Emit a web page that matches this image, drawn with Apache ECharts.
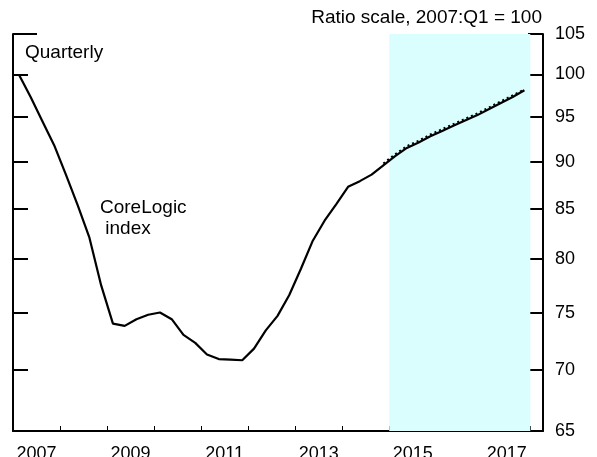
<!DOCTYPE html>
<html lang="en">
<head>
    <meta charset="UTF-8">
    <title>CoreLogic index</title>
    <script src="https://cdn.jsdelivr.net/npm/echarts@6/dist/echarts.min.js"></script>
    <style>
        html, body { margin: 0; padding: 0; background: #fff; }
        #chart { width: 597px; height: 457px; }
    </style>
</head>
<body>
<div id="chart"></div>
<script type="text/javascript">
    // quarterly, 2007:Q1 = 100
    var startYear = 2007;
    var coreLogic = [100.0, 97.3, 94.5, 91.8, 88.6, 85.4, 82.1, 77.5,
        74.0, 73.8, 74.4, 74.8, 75.0, 74.4, 73.0, 72.3,
        71.3, 70.9, 70.85, 70.8, 71.8, 73.4, 74.7, 76.6,
        79.1, 81.8, 83.8, 85.5, 87.3, 87.9, 88.6, 89.6,
        90.6, 91.5, 92.1, 92.8, 93.4, 94.0, 94.6, 95.2,
        95.9, 96.6, 97.3, 98.1];
    // dashed path, from 2014:Q4
    var projStart = 31;
    var projection = [89.8, 90.8, 91.7, 92.3, 93.0, 93.6, 94.2, 94.8, 95.4, 96.1, 96.8, 97.5, 98.2];
    var shadeFrom = 2015, shadeTo = 2018;
    var yTicks = [65, 70, 75, 80, 85, 90, 95, 100, 105];
    var yearTicks = [2008, 2009, 2010, 2011, 2012, 2013, 2014, 2015, 2016, 2017, 2018];
    var yearLabels = [2007, 2009, 2011, 2013, 2015, 2017];

    var font = '"Liberation Sans", Arial, Helvetica, sans-serif';
    var fs = 18;
    var noteFont = '19px ' + font;

    function qx(i) { return startYear + i / 4 + 0.125; }
    var mainData = coreLogic.map(function (v, i) { return [qx(i), Math.log(v)]; });
    var projData = projection.map(function (v, i) { return [qx(projStart + i), Math.log(v)]; });
    var logTicks = yTicks.map(function (v) { return Math.log(v); });

    var chart = echarts.init(document.getElementById('chart'));
    var axisCommon = {
        type: 'value',
        min: Math.log(65),
        max: Math.log(105),
        axisLine: { show: true, lineStyle: { color: '#000', width: 2 } },
        axisTick: { show: true, inside: true, length: 15, lineStyle: { color: '#000', width: 2 }, customValues: logTicks },
        splitLine: { show: false }
    };
    chart.setOption({
        animation: false,
        grid: { left: 13, right: 54, top: 34, bottom: 26, containLabel: false, outerBoundsMode: 'none' },
        xAxis: {
            type: 'value',
            min: 2007,
            max: 2018.27,
            axisLine: { show: true, onZero: false, lineStyle: { color: '#000', width: 2 } },
            axisTick: { show: true, inside: true, length: 5, lineStyle: { color: '#000', width: 1 }, customValues: yearTicks },
            axisLabel: {
                customValues: yearLabels.map(function (y) { return y + 0.5; }),
                formatter: function (v) { return String(Math.floor(v)); },
                color: '#000', fontSize: fs, fontFamily: font, margin: 14
            },
            splitLine: { show: false }
        },
        yAxis: [
            Object.assign({}, axisCommon, {
                position: 'right',
                axisLabel: {
                    customValues: logTicks,
                    formatter: function (v) { return String(Math.round(Math.exp(v))); },
                    color: '#000', fontSize: fs, fontFamily: font, margin: 12
                }
            }),
            Object.assign({}, axisCommon, {
                position: 'left',
                axisLabel: { show: false }
            })
        ],
        graphic: [
            // short cap at the top of the left frame
            { type: 'line', shape: { x1: 13, y1: 34, x2: 37, y2: 34 }, style: { stroke: '#000', lineWidth: 2 } },
            { type: 'text', left: 25, top: 43, style: { text: 'Quarterly', font: noteFont, fill: '#000' } },
            { type: 'text', right: 55, top: 8, style: { text: 'Ratio scale, 2007:Q1 = 100', font: noteFont, fill: '#000' } },
            { type: 'text', left: 100, top: 197, style: { text: 'CoreLogic\n index', font: noteFont, fill: '#000', lineHeight: 21 } }
        ],
        series: [
            {
                type: 'line',
                data: [],
                z: 1,
                markArea: {
                    silent: true,
                    itemStyle: { color: '#dafefe' },
                    data: [[{ xAxis: shadeFrom }, { xAxis: shadeTo }]]
                }
            },
            {
                type: 'line',
                data: projData,
                z: 2,
                symbol: 'none',
                lineStyle: { color: '#000', width: 2, type: [2, 3] }
            },
            {
                type: 'line',
                data: mainData,
                z: 3,
                symbol: 'none',
                lineStyle: { color: '#000', width: 2.2 }
            }
        ]
    });
</script>
</body>
</html>
